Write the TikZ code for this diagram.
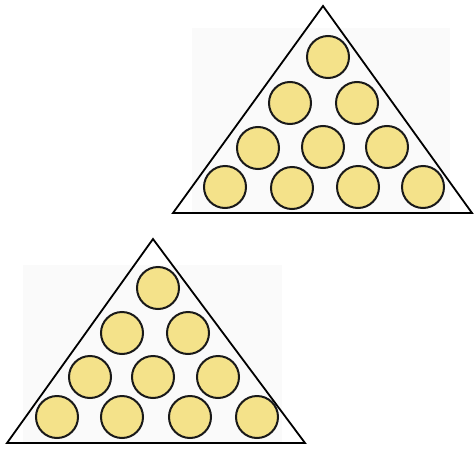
\documentclass[tikz,border=0pt]{standalone}
\begin{document}
\begin{tikzpicture}[x=1pt,y=-1pt,
  ball/.style={circle,draw=black!90,line width=2pt,fill=ballyellow,minimum size=42pt,inner sep=0pt},
  tri/.style={draw=black,line width=1.8pt,line join=miter},
  bg/.style={fill=black!2}]
\definecolor{ballyellow}{HTML}{F4E28A}
\useasboundingbox (0,0) rectangle (474,450);
% top triangle
\fill[bg] (192,28) rectangle (450,213);
\coordinate (A1) at (323,6);
\coordinate (B1) at (173,213);
\coordinate (C1) at (472,213);
\draw[tri] (A1) -- (B1) -- (C1) -- cycle;
\node[ball] (t1) at (328,57) {};
\node[ball] (t2) at (290,103) {};
\node[ball] (t3) at (357,103) {};
\node[ball] (t4) at (258,148) {};
\node[ball] (t5) at (323,147) {};
\node[ball] (t6) at (387,147) {};
\node[ball] (t7) at (225,187) {};
\node[ball] (t8) at (292,188) {};
\node[ball] (t9) at (358,187) {};
\node[ball] (t10) at (423,187) {};
% bottom triangle
\fill[bg] (23,265) rectangle (282,443);
\coordinate (A2) at (153,239);
\coordinate (B2) at (7,443);
\coordinate (C2) at (305,443);
\draw[tri] (A2) -- (B2) -- (C2) -- cycle;
\node[ball] (b1) at (158,288) {};
\node[ball] (b2) at (122,333) {};
\node[ball] (b3) at (188,333) {};
\node[ball] (b4) at (90,377) {};
\node[ball] (b5) at (153,377) {};
\node[ball] (b6) at (218,377) {};
\node[ball] (b7) at (57,417) {};
\node[ball] (b8) at (122,417) {};
\node[ball] (b9) at (190,417) {};
\node[ball] (b10) at (257,417) {};
\end{tikzpicture}
\end{document}
